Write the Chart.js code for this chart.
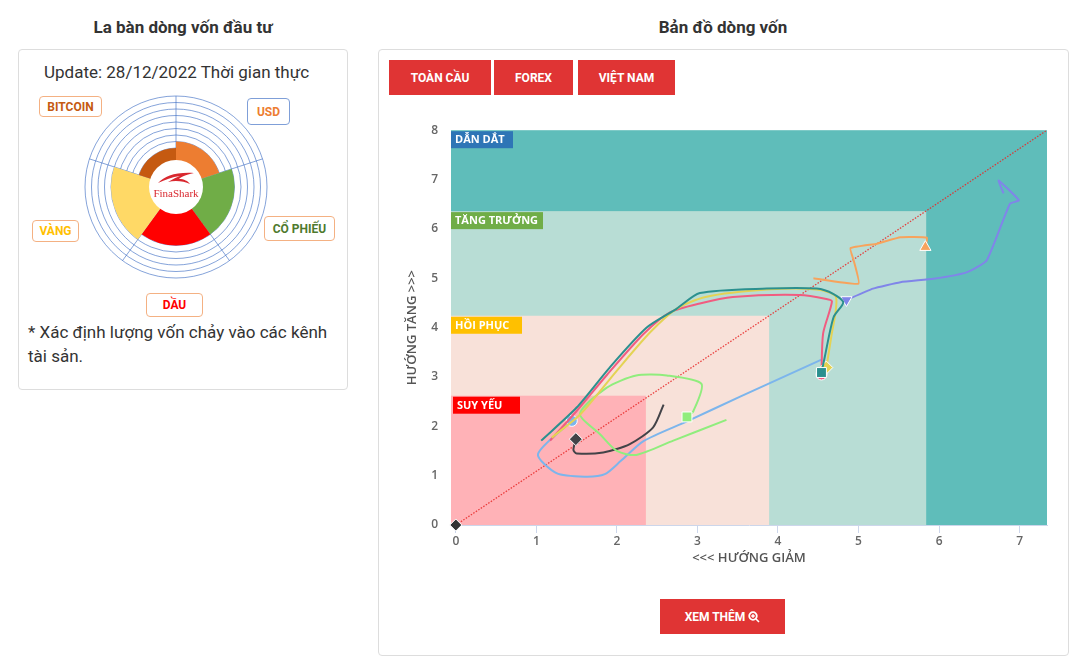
<!DOCTYPE html>
<html lang="vi">
<head>
<meta charset="utf-8">
<title>Bản đồ dòng vốn</title>
<script src="https://cdn.jsdelivr.net/npm/chart.js@4.4.0/dist/chart.umd.min.js"></script>
<style>
body{margin:0;width:1079px;height:660px;position:relative;background:#fff;font-family:Roboto,Arial,sans-serif;color:#333;overflow:hidden}
.title{position:absolute;top:17px;font-weight:bold;font-size:17px;line-height:20px;color:#333;text-align:center}
.card{position:absolute;border:1px solid #ddd;border-radius:4px;background:#fff;box-sizing:border-box}
.tag{position:absolute;box-sizing:border-box;border:1px solid #f4b183;border-radius:4px;background:#fff;font-weight:bold;font-size:12px;display:flex;align-items:center;justify-content:center}
.btn{position:absolute;background:#e03434;color:#fff;font-weight:bold;font-size:12px;display:flex;align-items:center;justify-content:center}
#hole{position:absolute;left:149px;top:160px;width:54px;height:54px;border-radius:50%;background:#fff}
</style>
</head>
<body>

<div class="title" style="left:18px;width:330px">La bàn dòng vốn đầu tư</div>
<div class="title" style="left:378px;width:690px">Bản đồ dòng vốn</div>

<div class="card" style="left:18px;top:49px;width:330px;height:341px"></div>
<div style="position:absolute;left:44px;top:62px;font-size:17px;line-height:20px">Update: 28/12/2022 Thời gian thực</div>

<canvas id="compass" width="184" height="184" style="position:absolute;left:84px;top:95px"></canvas>
<div id="hole">
  <svg width="38" height="14" style="position:absolute;left:8px;top:11px" viewBox="0 0 38 14">
    <path d="M1,12 C8,5 18,1 37,2 C28,4 24,6 22,8 C27,8 31,10 33,13 C27,10 18,9 11,11 C16,8 20,6 23,5 C15,6 8,9 1,12 Z" fill="#d9282f"/>
  </svg>
  <div style="position:absolute;left:0;top:27px;width:54px;text-align:center;font-family:'Liberation Serif',serif;font-size:11px;color:#d9282f">FinaShark</div>
</div>

<div class="tag" style="left:39px;top:96px;width:63px;height:21px;color:#c55a11">BITCOIN</div>
<div class="tag" style="left:247px;top:98px;width:43px;height:27px;color:#ed7d31;border-color:#7f9fd8">USD</div>
<div class="tag" style="left:264px;top:216px;width:71px;height:25px;color:#4e7a2e">CỔ PHIẾU</div>
<div class="tag" style="left:32px;top:220px;width:47px;height:22px;color:#ffc000">VÀNG</div>
<div class="tag" style="left:146px;top:293px;width:57px;height:24px;color:#ff0000">DẦU</div>

<div style="position:absolute;left:28px;top:320px;width:305px;font-size:17px;line-height:24px">* Xác định lượng vốn chảy vào các kênh tài sản.</div>

<div class="card" style="left:378px;top:49px;width:691px;height:607px"></div>
<div class="btn" style="left:389px;top:60px;width:102px;height:35px">TOÀN CẦU</div>
<div class="btn" style="left:494px;top:60px;width:79px;height:35px">FOREX</div>
<div class="btn" style="left:578px;top:60px;width:97px;height:35px">VIỆT NAM</div>

<div style="position:absolute;left:390px;top:110px;width:670px;height:465px">
  <canvas id="flow"></canvas>
</div>

<div class="btn" style="left:660px;top:599px;width:125px;height:35px">XEM THÊM&nbsp;
  <svg width="12" height="12" viewBox="0 0 12 12"><circle cx="5" cy="5" r="3.8" fill="none" stroke="#fff" stroke-width="1.8"/><path d="M3.2 5H6.8M5 3.2V6.8M7.8 7.8L11 11" stroke="#fff" stroke-width="1.6"/></svg>
</div>

<script>
// la ban: tu tren xuong theo chieu kim dong ho
const assetNames = ['USD', 'CỔ PHIẾU', 'DẦU', 'VÀNG', 'BITCOIN'];
const assetValues = [7, 9, 9, 10, 6];
const assetColors = ['#ed7d31', '#70ad47', '#ff0000', '#ffd966', '#c55a11'];

// ban do dong von
const xTicks = [0, 1, 2, 3, 4, 5, 6, 7];
const yTicks = [0, 1, 2, 3, 4, 5, 6, 7, 8];
const zoneNames = ['DẪN DẮT', 'TĂNG TRƯỞNG', 'HỒI PHỤC', 'SUY YẾU'];
const zoneRight = [7.34, 5.84, 3.89, 2.36];
const zoneTop = [8, 6.36, 4.24, 2.62];
const zoneColors = ['#5fbdba', '#b8ddd5', '#f8e1d9', '#ffb2b7'];
const zoneTagColors = ['#2e75b6', '#70ad47', '#ffc000', '#ff0000'];
const zoneTagWidths = [62, 92, 71, 67];

const diagonal = [[0, 0], [7.34, 8]];
const blue = [[4.54,3.35],[3.53,2.6],[2.87,2.1],[2.33,1.7],[2.05,1.3],[1.85,1.03],[1.6,0.98],[1.25,1.05],[1.02,1.44],[1.44,2.11]];
const dark = [[2.58,2.44],[2.45,1.98],[2.16,1.64],[1.83,1.47],[1.5,1.45],[1.46,1.52],[1.49,1.74]];
const green = [[3.36,2.13],[2.7,1.71],[2.24,1.42],[2.0,1.5],[1.79,1.84],[1.54,2.25],[1.87,2.78],[2.24,3.03],[2.62,3.03],[3.05,2.86],[2.95,2.31],[2.87,2.19]];
const orange = [[4.44,5.0],[5.0,4.89],[4.94,5.36],[4.9,5.61],[5.23,5.7],[5.52,5.83],[5.85,5.82],[5.83,5.63]];
const purple = [[6.8,6.72],[6.74,6.98],[6.99,6.58],[6.88,6.51],[6.59,5.36],[6.34,5.12],[5.93,4.99],[5.52,4.92],[5.18,4.79],[4.85,4.56]];
const pink = [[1.17,1.71],[1.5,2.31],[1.87,3.03],[2.33,3.87],[2.66,4.31],[3.03,4.49],[3.44,4.62],[4.27,4.66],[4.6,4.58],[4.67,4.53],[4.56,3.88],[4.54,3.05]];
const yellow = [[1.19,1.77],[1.55,2.25],[2.0,3.13],[2.41,3.9],[2.74,4.38],[3.1,4.62],[3.86,4.77],[4.48,4.77],[4.72,4.62],[4.66,3.8],[4.6,3.19]];
const teal = [[1.06,1.71],[1.5,2.38],[1.91,3.19],[2.37,4.0],[2.74,4.38],[3.03,4.7],[3.86,4.79],[4.48,4.79],[4.69,4.68],[4.81,4.51],[4.69,4.21],[4.58,3.4],[4.54,3.09]];

new Chart(document.getElementById('compass'), {
  type: 'polarArea',
  data: {
    labels: assetNames,
    datasets: [{data: assetValues, backgroundColor: assetColors, borderWidth: 0}]
  },
  options: {
    responsive: false,
    animation: false,
    layout: {padding: 1},
    plugins: {legend: {display: false}, tooltip: {enabled: false}},
    scales: {
      r: {
        min: 0, max: 14, z: 1,
        ticks: {display: false, stepSize: 1},
        grid: {color: 'rgba(68,114,196,0.65)', lineWidth: 1},
        angleLines: {display: true, color: 'rgba(68,114,196,0.65)'},
        pointLabels: {display: false}
      }
    }
  }
});

function line(pts, color, style, r, n, rot, tension) {
  return {
    data: pts.map(p => ({x: p[0], y: p[1]})),
    showLine: true,
    borderColor: color,
    backgroundColor: color,
    borderWidth: 2,
    tension: tension || 0.25,
    pointRadius: pts.map((p, i) => i === pts.length - 1 ? r : 0),
    pointHoverRadius: 0,
    pointStyle: style,
    rotation: rot || 0,
    pointBorderColor: '#fff',
    pointBorderWidth: 1,
    order: 10 - n,
    clip: false
  };
}

const zones = {
  id: 'zones',
  beforeDraw(chart) {
    const {ctx, chartArea: a, scales: {x, y}} = chart;
    ctx.save();
    zoneRight.forEach((v, i) => {
      const r = Math.min(x.getPixelForValue(v), a.right);
      const t = Math.max(y.getPixelForValue(zoneTop[i]), a.top);
      ctx.fillStyle = zoneColors[i];
      ctx.fillRect(a.left, t, r - a.left, a.bottom - t);
    });
    ctx.restore();
  },
  beforeDatasetsDraw(chart) {
    const {ctx, chartArea: a, scales: {y}} = chart;
    ctx.save();
    ctx.font = 'bold 11px "Open Sans"';
    ctx.textBaseline = 'middle';
    zoneNames.forEach((name, i) => {
      const t = Math.max(y.getPixelForValue(zoneTop[i]), a.top) + 1;
      const l = a.left + (i === 3 ? 2 : 0);
      ctx.fillStyle = zoneTagColors[i];
      ctx.fillRect(l, t, zoneTagWidths[i], 17);
      ctx.fillStyle = '#fff';
      ctx.fillText(name, l + 4, t + 9);
    });
    ctx.restore();
  }
};

const tickFont = {family: 'Open Sans', size: 12, weight: '600'};
const titleFont = {family: 'Open Sans', size: 13, weight: '600'};

new Chart(document.getElementById('flow'), {
  type: 'scatter',
  data: {
    datasets: [
      {
        data: diagonal.map(p => ({x: p[0], y: p[1]})),
        showLine: true,
        borderColor: 'rgba(232,40,40,0.85)',
        borderWidth: 1.3,
        borderDash: [1.5, 1.5],
        backgroundColor: '#333',
        pointStyle: 'rectRot',
        pointRadius: [6, 0],
        pointHoverRadius: 0,
        pointBorderColor: '#fff',
        pointBorderWidth: 1,
        order: 20,
        clip: false
      },
      line(blue, '#7cb5ec', 'circle', 5.5, 0),
      line(dark, '#434348', 'rectRot', 6.5, 1),
      line(green, '#90ed7d', 'rect', 7, 2),
      line(orange, '#f7a35c', 'triangle', 6.5, 3, 0, 0.12),
      line(purple, '#8085e9', 'triangle', 6.5, 4, 180, 0.15),
      line(pink, '#f15c80', 'circle', 5.5, 5),
      line(yellow, '#e4d354', 'rectRot', 6.5, 6),
      line(teal, '#2b908f', 'rect', 7, 7)
    ]
  },
  options: {
    responsive: true,
    maintainAspectRatio: false,
    animation: false,
    layout: {padding: {left: 6, right: 13, top: 20, bottom: 5}},
    plugins: {legend: {display: false}, tooltip: {enabled: false}},
    scales: {
      x: {
        type: 'linear',
        min: -0.06, max: 7.34,
        afterBuildTicks: s => { s.ticks = xTicks.map(v => ({value: v})); },
        afterFit: s => { s.height = 45; },
        grid: {drawOnChartArea: false, color: '#ccd6eb', tickLength: 8},
        border: {color: '#ccd6eb'},
        ticks: {font: tickFont, color: '#666', padding: 1},
        title: {display: true, text: '<<< HƯỚNG GIẢM', color: '#555', font: titleFont, padding: {top: 4, bottom: 4}}
      },
      y: {
        min: 0, max: 8,
        afterBuildTicks: s => { s.ticks = yTicks.map(v => ({value: v})); },
        afterFit: s => { s.width = 55; },
        grid: {display: false, drawTicks: false},
        border: {display: false},
        ticks: {font: tickFont, color: '#666', padding: 13},
        title: {display: true, text: 'HƯỚNG TĂNG >>>', color: '#555', font: titleFont, padding: {top: 8, bottom: 4}}
      }
    }
  },
  plugins: [zones]
});
</script>
</body>
</html>
